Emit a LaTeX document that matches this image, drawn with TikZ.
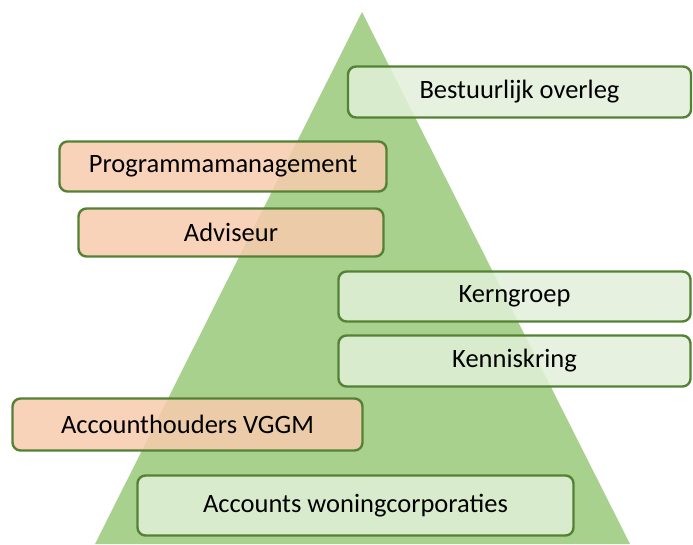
\documentclass[tikz,border=0pt]{standalone}
\usepackage{fontspec}
\setmainfont{Carlito}
\usepackage{tikz}
\usetikzlibrary{positioning,calc}

\definecolor{pyrgreen}{HTML}{A9D18E}
\definecolor{boxgreen}{HTML}{E2F0D9}
\definecolor{boxorange}{HTML}{F8CBAD}
\definecolor{rimgreen}{HTML}{548235}

\tikzset{
  tier/.style={draw=rimgreen,line width=2.4pt,rounded corners=8pt,
    fill opacity=0.85,text opacity=1,inner sep=0pt,
    font=\fontsize{26.5}{30}\selectfont},
  greenbox/.style={tier,fill=boxgreen},
  orangebox/.style={tier,fill=boxorange}
}

\begin{document}
\begin{tikzpicture}[x=1pt,y=-1pt]
      \useasboundingbox (0,0) rectangle (693,544);
      % piramide
      \fill[pyrgreen] (95,544) -- (362,12) -- (630,544) -- cycle;
      % lagen
      \node[greenbox,minimum width=343pt,minimum height=51pt] (bestuur) at (519.5,92) {Bestuurlijk overleg};
      \node[orangebox,minimum width=327pt,minimum height=50pt] (programma) at (223,166.5) {Programmamanagement};
      \node[orangebox,minimum width=305pt,minimum height=48pt] (adviseur) at (231,232.5) {Adviseur};
      \node[greenbox,minimum width=352pt,minimum height=50pt] (kern) at (514.5,296.5) {Kerngroep};
      \node[greenbox,minimum width=352pt,minimum height=51pt] (kennis) at (514.5,361) {Kenniskring};
      \node[orangebox,minimum width=350pt,minimum height=52pt] (vggm) at (187.5,424.5) {Accounthouders VGGM};
      \node[greenbox,minimum width=436pt,minimum height=60pt] (woning) at (355.5,505.5) {Accounts woningcorporaties};
    \end{tikzpicture}
\end{document}
